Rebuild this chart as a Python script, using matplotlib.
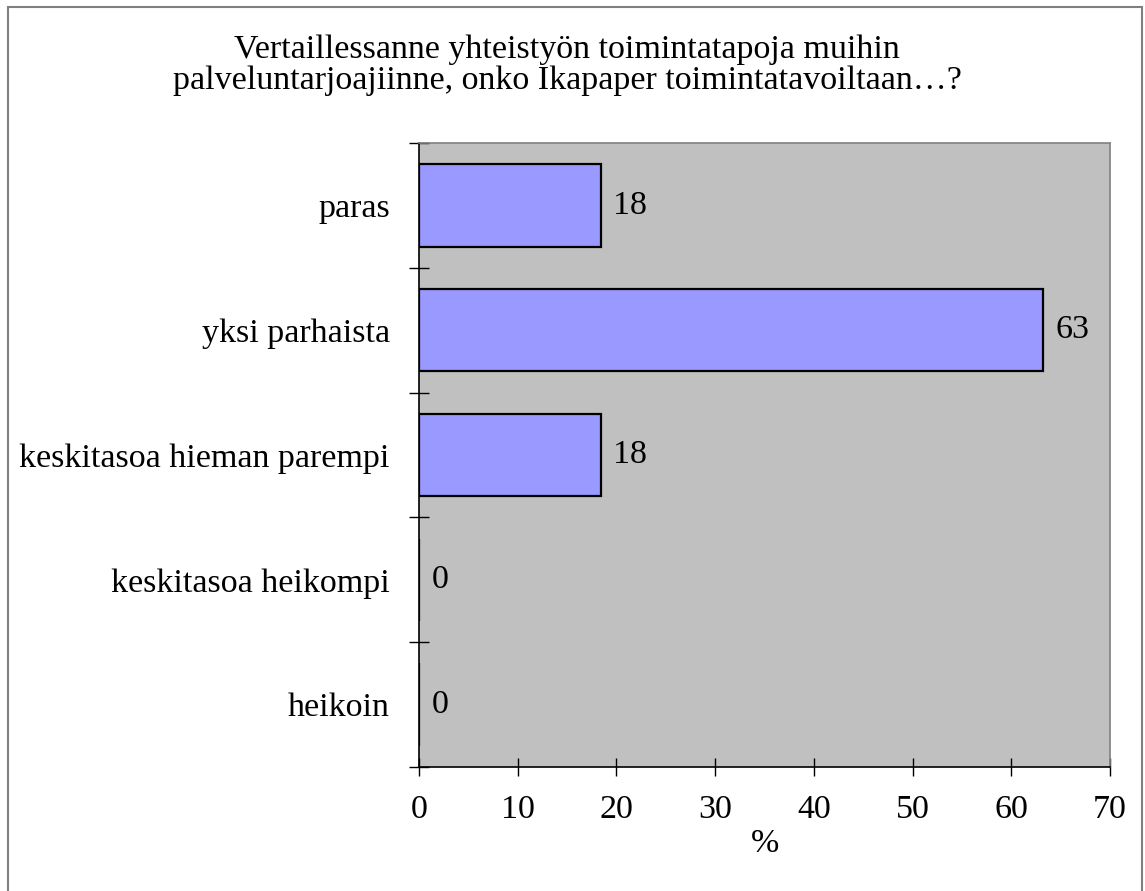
import matplotlib.pyplot as plt
from matplotlib.patches import Rectangle

categories = ['paras', 'yksi parhaista', 'keskitasoa hieman parempi',
              'keskitasoa heikompi', 'heikoin']
values = [18.4, 63.2, 18.4, 0, 0]
title = 'Vertaillessanne yhteistyön toimintatapoja muihin\npalveluntarjoajiinne, onko Ikapaper toimintatavoiltaan…?'

plt.rcParams['font.family'] = ['Liberation Serif', 'DejaVu Serif']
fs = 24.5

fig = plt.figure(figsize=(11.45, 8.91), dpi=100)
ax = fig.add_axes([419 / 1145, 1 - 767 / 891, (1110 - 419) / 1145, (767 - 143) / 891])

# outer frame
fig.patches.append(Rectangle((8 / 1145, -0.01), (1142 - 8) / 1145, 1 - 7 / 891 + 0.01,
                             transform=fig.transFigure, fill=False,
                             edgecolor='#808080', linewidth=1.5))

ypos = list(range(len(categories)))
ax.barh(ypos, values, height=0.66, color='#9999FF', edgecolor='black', linewidth=1.6)
ax.set_facecolor('#C0C0C0')
ax.set_xlim(0, 70)
ax.set_ylim(len(categories) - 0.5, -0.5)

for y, v in zip(ypos, values):
    ax.annotate(f'{v:.0f}', (v, y), xytext=(9, 0), textcoords='offset points',
                va='center', ha='left', fontsize=fs)

ax.set_yticks(ypos)
ax.set_yticklabels(categories, fontsize=fs)
ax.tick_params(axis='y', which='major', length=0, pad=21)
ax.set_yticks([y - 0.5 for y in ypos] + [len(categories) - 0.5], minor=True)
ax.tick_params(axis='y', which='minor', direction='inout', length=14, width=1)

ax.set_xticks(range(0, 71, 10))
ax.tick_params(axis='x', direction='inout', length=13, width=1, labelsize=fs, pad=13)
ax.set_xlabel('%', fontsize=fs, labelpad=3)

ax.spines['top'].set_color('#808080')
ax.spines['right'].set_color('#808080')
for s in ax.spines.values():
    s.set_linewidth(1.2)

fig.text(567 / 1145, 1 - 65 / 891, title, ha='center', va='center', fontsize=fs,
         linespacing=1.0)

fig.savefig('out.png', dpi=100)
